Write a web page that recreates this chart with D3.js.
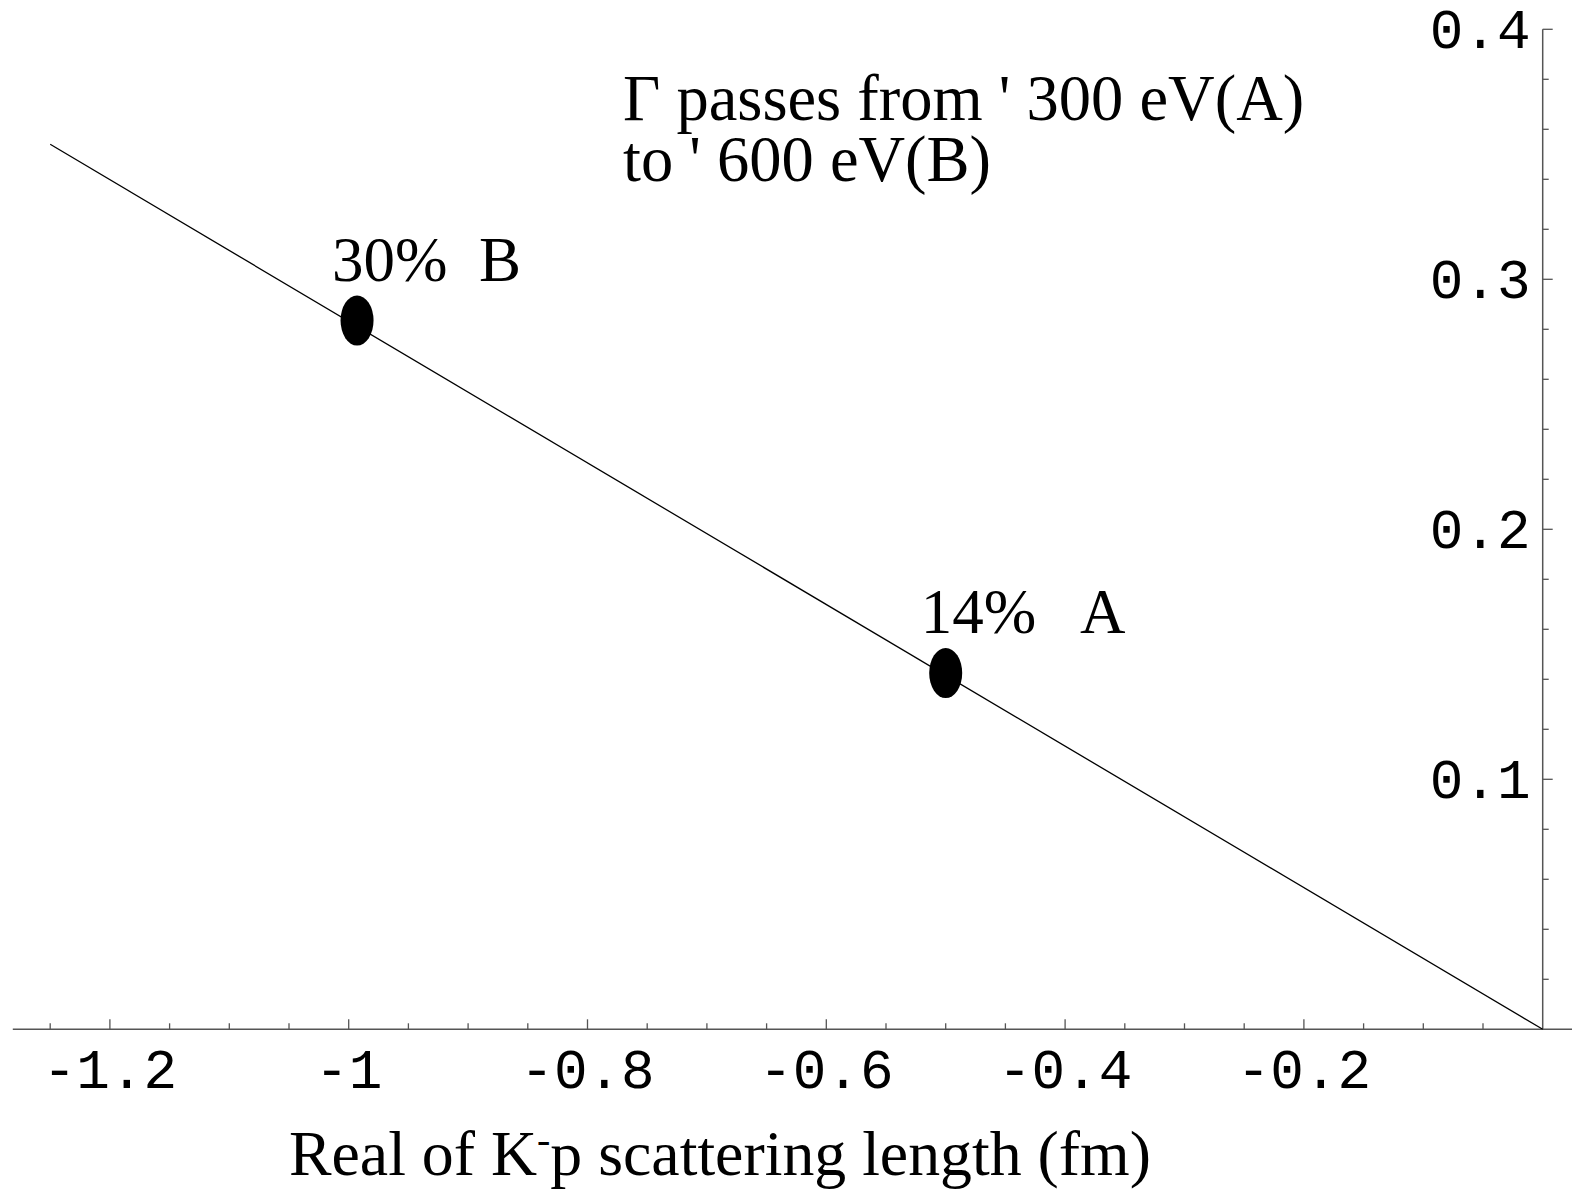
<!DOCTYPE html>
<html>
<head>
<meta charset="utf-8">
<script src="https://cdn.jsdelivr.net/npm/d3@7"></script>
<style>
  html, body { margin: 0; padding: 0; background: #fff; }
  svg { display: block; }
</style>
</head>
<body>
<script>
// ---- data ----
const lineX = [-1.25, 0];
const lineY = [0.354, 0];
const pointNames = ["B", "A"];
const pointX = [-0.993, -0.5];
const pointY = [0.2835, 0.1425];
const pointLabels = ["30%  B", "14%   A"];
const xTickValues = [-1.2, -1, -0.8, -0.6, -0.4, -0.2];
const xTickLabels = ["-1.2", "-1", "-0.8", "-0.6", "-0.4", "-0.2"];
const yTickValues = [0.1, 0.2, 0.3, 0.4];
const yTickLabels = ["0.1", "0.2", "0.3", "0.4"];
const titleLines = ["\u0393 passes from ' 300 eV(A)", "to ' 600 eV(B)"];
const xTitleParts = ["Real of K", "-", "p scattering length (fm)"];

// ---- layout ----
const W = 1572, H = 1190;
const x = d3.scaleLinear().domain([-1.25, 0]).range([50.2, 1542.7]);
const y = d3.scaleLinear().domain([0, 0.4]).range([1029.3, 29.3]);

const svg = d3.select("body").append("svg").attr("width", W).attr("height", H);

const axisColor = "#555";
const tickFont = "'Liberation Mono', 'DejaVu Sans Mono', monospace";
const serif = "'Liberation Serif', 'Times New Roman', serif";

// x axis line
svg.append("line")
  .attr("x1", 12.8).attr("x2", W)
  .attr("y1", y(0)).attr("y2", y(0))
  .attr("stroke", axisColor).attr("stroke-width", 1.5);
// y axis line
svg.append("line")
  .attr("x1", x(0)).attr("x2", x(0))
  .attr("y1", y(0.4)).attr("y2", y(0))
  .attr("stroke", axisColor).attr("stroke-width", 1.5);

// x ticks
const xMinor = d3.range(-25, 0).map(i => i * 0.05)
  .filter(v => !xTickValues.some(t => Math.abs(t - v) < 1e-9));
svg.append("g").selectAll("line").data(xMinor).join("line")
  .attr("x1", d => x(d)).attr("x2", d => x(d))
  .attr("y1", y(0)).attr("y2", y(0) - 6)
  .attr("stroke", axisColor).attr("stroke-width", 1.3);
svg.append("g").selectAll("line").data(xTickValues).join("line")
  .attr("x1", d => x(d)).attr("x2", d => x(d))
  .attr("y1", y(0)).attr("y2", y(0) - 10)
  .attr("stroke", axisColor).attr("stroke-width", 1.3);
svg.append("g").selectAll("text").data(xTickValues).join("text")
  .attr("x", d => x(d)).attr("y", 1088)
  .attr("text-anchor", "middle")
  .attr("font-family", tickFont).attr("font-size", 56)
  .attr("fill", "#000")
  .text((d, i) => xTickLabels[i]);

// y ticks (pointing right)
const yMinor = d3.range(1, 20).map(i => i * 0.02)
  .filter(v => !yTickValues.some(t => Math.abs(t - v) < 1e-9));
svg.append("g").selectAll("line").data(yMinor).join("line")
  .attr("x1", x(0)).attr("x2", x(0) + 6)
  .attr("y1", d => y(d)).attr("y2", d => y(d))
  .attr("stroke", axisColor).attr("stroke-width", 1.3);
svg.append("g").selectAll("line").data(yTickValues).join("line")
  .attr("x1", x(0)).attr("x2", x(0) + 10)
  .attr("y1", d => y(d)).attr("y2", d => y(d))
  .attr("stroke", axisColor).attr("stroke-width", 1.3);
svg.append("g").selectAll("text").data(yTickValues).join("text")
  .attr("x", x(0) - 12).attr("y", d => y(d) + 19)
  .attr("text-anchor", "end")
  .attr("font-family", tickFont).attr("font-size", 56)
  .attr("fill", "#000")
  .text((d, i) => yTickLabels[i]);

// data line
const lineData = lineX.map((v, i) => [v, lineY[i]]);
svg.append("path")
  .datum(lineData)
  .attr("d", d3.line().x(d => x(d[0])).y(d => y(d[1])))
  .attr("fill", "none").attr("stroke", "#000").attr("stroke-width", 1.3);

// points
const pts = pointX.map((v, i) => ({ x: v, y: pointY[i], label: pointLabels[i] }));
svg.append("g").selectAll("ellipse").data(pts).join("ellipse")
  .attr("cx", d => x(d.x)).attr("cy", d => y(d.y))
  .attr("rx", 16.5).attr("ry", 25)
  .attr("fill", "#000");
svg.append("g").selectAll("text").data(pts).join("text")
  .attr("x", d => x(d.x) - 25).attr("y", d => y(d.y) - 40)
  .attr("font-family", serif).attr("font-size", 63)
  .attr("fill", "#000")
  .style("white-space", "pre")
  .attr("xml:space", "preserve")
  .text(d => d.label);

// title (one text block, two lines)
const title = svg.append("text")
  .attr("x", 623).attr("y", 120)
  .attr("font-family", serif).attr("font-size", 64.5)
  .attr("fill", "#000")
  .style("white-space", "pre");
title.selectAll("tspan").data(titleLines).join("tspan")
  .attr("x", 623)
  .attr("dy", (d, i) => i === 0 ? 0 : 61)
  .text(d => d);

// x axis title
const xt = svg.append("text")
  .attr("x", 289).attr("y", 1175)
  .attr("font-family", serif).attr("font-size", 63.8)
  .attr("fill", "#000");
xt.append("tspan").text(xTitleParts[0]);
xt.append("tspan").attr("dy", -22).attr("font-size", 40).text(xTitleParts[1]);
xt.append("tspan").attr("dy", 22).text(xTitleParts[2]);
</script>
</body>
</html>
